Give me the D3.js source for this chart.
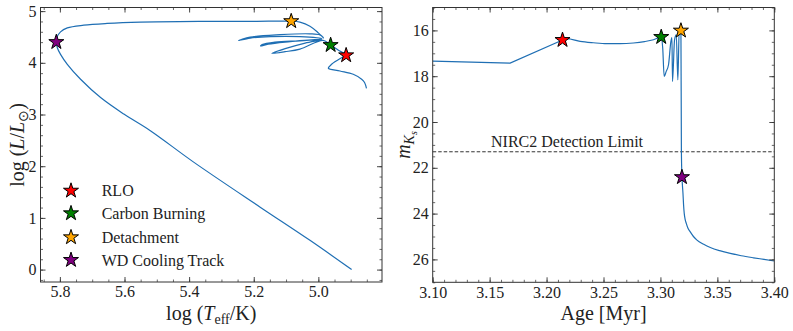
<!DOCTYPE html>
<head>
  <meta charset="utf-8">
  <script src="https://d3js.org/d3.v7.min.js"></script>
  <style>
    body { margin:0; background:#fff; }
    svg { display:block; }
    text { font-family: "Liberation Serif", serif; fill:#222; }
  </style>
</head>
<body>
  <svg width="793" height="331"></svg>
  <script>
    // left panel: HR track
    var logTeff = [4.851, 4.857, 4.866, 4.892, 4.933, 4.969, 4.959, 4.928, 4.914, 4.939, 4.962,
      4.985, 5.057, 5.103, 5.144, 5.100, 5.041, 4.989, 5.057, 5.134, 5.174, 5.179, 5.155, 5.087,
      4.989, 5.057, 5.149, 5.211, 5.247, 5.211, 5.118, 5.026, 4.995, 4.984, 5.000, 5.026, 5.057,
      5.084, 5.200, 5.365, 5.551, 5.654, 5.726, 5.777, 5.798, 5.810, 5.811, 5.808, 5.798, 5.777,
      5.736, 5.674, 5.602, 5.520, 5.386, 5.180, 5.026, 4.897];
    var logL = [3.505, 3.620, 3.682, 3.778, 3.842, 3.894, 3.971, 4.098, 4.145, 4.247, 4.343,
      4.434, 4.266, 4.215, 4.183, 4.279, 4.382, 4.449, 4.425, 4.401, 4.353, 4.324, 4.360, 4.410,
      4.468, 4.507, 4.507, 4.478, 4.430, 4.497, 4.545, 4.561, 4.540, 4.484, 4.580, 4.709, 4.786,
      4.805, 4.802, 4.800, 4.786, 4.761, 4.728, 4.676, 4.599, 4.484, 4.401, 4.291, 4.164, 3.971,
      3.682, 3.328, 3.008, 2.686, 2.079, 1.208, 0.566, 0.0];

    // right panel: Ks magnitude vs age
    var ageMyr = [3.100, 3.168, 3.214, 3.2178, 3.2295, 3.241, 3.2529, 3.2646, 3.2763, 3.286,
      3.2939, 3.3007, 3.302, 3.3033, 3.305, 3.3071, 3.3092, 3.3101, 3.3106, 3.3124, 3.3139,
      3.3153, 3.3165, 3.318, 3.3184, 3.3189, 3.3193, 3.3198, 3.3203, 3.3209, 3.3217, 3.3227,
      3.324, 3.3262, 3.329, 3.3321, 3.338, 3.3438, 3.352, 3.3613, 3.371, 3.3818, 3.391, 3.400];
    var magKs = [17.34, 17.43, 16.42, 16.36, 16.48, 16.54, 16.58, 16.58, 16.55, 16.49,
      16.41, 16.29, 16.77, 18.01, 17.80, 17.50, 16.48, 16.31, 18.23, 16.41, 16.19,
      18.16, 16.04, 16.01, 21.20, 22.41, 22.75, 23.12, 23.60, 23.99, 24.25, 24.43,
      24.62, 24.80, 25.00, 25.16, 25.34, 25.48, 25.62, 25.74, 25.84, 25.93, 26.00, 26.07];

    var eventNames = ['RLO', 'Carbon Burning', 'Detachment', 'WD Cooling Track'];
    var eventColors = ['red', 'green', 'orange', 'purple'];
    var eventTeff = [4.914, 4.962, 5.084, 5.811];
    var eventL = [4.145, 4.343, 4.805, 4.401];
    var eventAge = [3.214, 3.3007, 3.318, 3.3189];
    var eventMag = [16.42, 16.29, 16.01, 22.41];

    var nircLimit = 21.3;

    var leftTicksX = [5.8, 5.6, 5.4, 5.2, 5.0];
    var leftTicksY = [0, 1, 2, 3, 4, 5];
    var rightTicksX = [3.10, 3.15, 3.20, 3.25, 3.30, 3.35, 3.40];
    var rightTicksY = [16, 18, 20, 22, 24, 26];

    var svg = d3.select('svg');
    var lineColor = '#1f6fb4';
    var serif = '"Liberation Serif", serif';

    var L = {x0: 40.5, x1: 382, y0: 7.5, y1: 282};
    var R = {x0: 432.7, x1: 774.3, y0: 7.5, y1: 282.3};

    var xL = d3.scaleLinear().domain([5.86, 4.803]).range([L.x0, L.x1]);
    var yL = d3.scaleLinear().domain([-0.24, 5.07]).range([L.y1, L.y0]);
    var xR = d3.scaleLinear().domain([3.10, 3.40]).range([R.x0, R.x1]);
    var yR = d3.scaleLinear().domain([15, 27]).range([R.y0, R.y1]);

    function range(a, b, step) {
      var out = [];
      for (var v = a; v <= b + 1e-9; v += step) out.push(+v.toFixed(4));
      return out;
    }

    function frame(box, x, y, xMajor, xMinor, yMajor, yMinor, xFmt, yFmt) {
      var g = svg.append('g');
      var sides = [
        [d3.axisBottom(x), 'translate(0,' + box.y1 + ')', true, xMajor, xMinor, xFmt],
        [d3.axisTop(x), 'translate(0,' + box.y0 + ')', false, xMajor, xMinor, xFmt],
        [d3.axisLeft(y), 'translate(' + box.x0 + ',0)', true, yMajor, yMinor, yFmt],
        [d3.axisRight(y), 'translate(' + box.x1 + ',0)', false, yMajor, yMinor, yFmt]
      ];
      sides.forEach(function(s) {
        var ax = s[0];
        var gm = g.append('g').attr('transform', s[1])
          .call(ax.tickValues(s[4]).tickSize(-2.5).tickFormat(''));
        gm.select('.domain').remove();
        gm.selectAll('line').attr('stroke', '#444').attr('stroke-width', 0.8);
        var gM = g.append('g').attr('transform', s[1])
          .call(ax.tickValues(s[3]).tickSize(-5).tickPadding(4)
            .tickFormat(s[2] ? s[5] : ''));
        gM.attr('font-family', serif);
        gM.select('.domain').remove();
        gM.selectAll('line').attr('stroke', '#333').attr('stroke-width', 0.9);
        gM.selectAll('text').attr('font-size', '16px').attr('fill', '#222')
          .attr('font-family', serif);
      });
      g.append('rect').attr('x', box.x0).attr('y', box.y0)
        .attr('width', box.x1 - box.x0).attr('height', box.y1 - box.y0)
        .attr('fill', 'none').attr('stroke', '#333').attr('stroke-width', 1);
    }

    var defs = svg.append('defs');
    defs.append('clipPath').attr('id', 'clipL').append('rect')
      .attr('x', L.x0).attr('y', L.y0).attr('width', L.x1 - L.x0).attr('height', L.y1 - L.y0);
    defs.append('clipPath').attr('id', 'clipR').append('rect')
      .attr('x', R.x0).attr('y', R.y0).attr('width', R.x1 - R.x0).attr('height', R.y1 - R.y0);

    var star = d3.symbol().type(d3.symbolStar).size(70);

    // ---- left panel
    var trackL = logTeff.map(function(t, i) { return [t, logL[i]]; });
    svg.append('path')
      .datum(trackL)
      .attr('clip-path', 'url(#clipL)')
      .attr('d', d3.line().x(function(d) { return xL(d[0]); }).y(function(d) { return yL(d[1]); })
        .curve(d3.curveCatmullRom.alpha(0.5)))
      .attr('fill', 'none').attr('stroke', lineColor).attr('stroke-width', 1.2);

    eventNames.forEach(function(n, i) {
      svg.append('path').attr('d', star)
        .attr('transform', 'translate(' + xL(eventTeff[i]) + ',' + yL(eventL[i]) + ')')
        .attr('fill', eventColors[i]).attr('stroke', '#000').attr('stroke-width', 1);
    });

    frame(L, xL, yL, leftTicksX, range(4.85, 5.85, 0.05), leftTicksY, range(-0.2, 5.0, 0.2),
      d3.format('.1f'), d3.format('d'));

    // legend
    var legY = [190.7, 213.3, 237.3, 260];
    eventNames.forEach(function(n, i) {
      svg.append('path').attr('d', star)
        .attr('transform', 'translate(71,' + legY[i] + ')')
        .attr('fill', eventColors[i]).attr('stroke', '#000').attr('stroke-width', 1);
      svg.append('text').attr('x', 101.7).attr('y', legY[i]).attr('dy', '0.35em')
        .attr('font-family', serif).attr('font-size', '16px').text(n);
    });

    var xt = svg.append('text').attr('x', (L.x0 + L.x1) / 2).attr('y', 320)
      .attr('text-anchor', 'middle').attr('font-family', serif).attr('font-size', '20px');
    xt.append('tspan').text('log  (');
    xt.append('tspan').attr('font-style', 'italic').text('T');
    xt.append('tspan').attr('font-size', '14px').attr('dy', 4).text('eff');
    xt.append('tspan').attr('dy', -4).text('/K)');

    var yt = svg.append('text').attr('transform', 'translate(24,145) rotate(-90)')
      .attr('text-anchor', 'middle').attr('font-family', serif).attr('font-size', '20px');
    yt.append('tspan').text('log  (');
    yt.append('tspan').attr('font-style', 'italic').text('L');
    yt.append('tspan').text('/');
    yt.append('tspan').attr('font-style', 'italic').text('L');
    yt.append('tspan').attr('font-size', '14px').attr('dy', 4).text('\u2299');
    yt.append('tspan').attr('dy', -4).text(')');

    // ---- right panel
    svg.append('line')
      .attr('x1', R.x0).attr('x2', R.x1).attr('y1', yR(nircLimit)).attr('y2', yR(nircLimit))
      .attr('stroke', '#333').attr('stroke-width', 1).attr('stroke-dasharray', '3.5,2');
    svg.append('text').attr('x', xR(3.218)).attr('y', yR(nircLimit) - 5)
      .attr('text-anchor', 'middle').attr('font-family', serif).attr('font-size', '16px')
      .text('NIRC2 Detection Limit');

    var trackR = ageMyr.map(function(a, i) { return [a, magKs[i]]; });
    var lineR = d3.line().x(function(d) { return xR(d[0]); }).y(function(d) { return yR(d[1]); });
    // straight early segment, smooth after RLO
    svg.append('path')
      .datum(trackR.slice(0, 3))
      .attr('clip-path', 'url(#clipR)')
      .attr('d', lineR)
      .attr('fill', 'none').attr('stroke', lineColor).attr('stroke-width', 1.2);
    svg.append('path')
      .datum(trackR.slice(2))
      .attr('clip-path', 'url(#clipR)')
      .attr('d', lineR.curve(d3.curveMonotoneX))
      .attr('fill', 'none').attr('stroke', lineColor).attr('stroke-width', 1.2);

    eventNames.forEach(function(n, i) {
      svg.append('path').attr('d', star)
        .attr('transform', 'translate(' + xR(eventAge[i]) + ',' + yR(eventMag[i]) + ')')
        .attr('fill', eventColors[i]).attr('stroke', '#000').attr('stroke-width', 1);
    });

    frame(R, xR, yR, rightTicksX, range(3.10, 3.40, 0.01), rightTicksY, range(15, 27, 0.5),
      d3.format('.2f'), d3.format('d'));

    svg.append('text').attr('x', (R.x0 + R.x1) / 2).attr('y', 320)
      .attr('text-anchor', 'middle').attr('font-family', serif).attr('font-size', '20px')
      .text('Age [Myr]');

    var mt = svg.append('text').attr('transform', 'translate(410,145) rotate(-90)')
      .attr('text-anchor', 'middle').attr('font-family', serif).attr('font-size', '20px');
    mt.append('tspan').attr('font-style', 'italic').text('m');
    mt.append('tspan').attr('font-style', 'italic').attr('font-size', '14px').attr('dy', 4).text('K');
    mt.append('tspan').attr('font-style', 'italic').attr('font-size', '10px').attr('dy', 3).text('s');
  </script>
</body>
